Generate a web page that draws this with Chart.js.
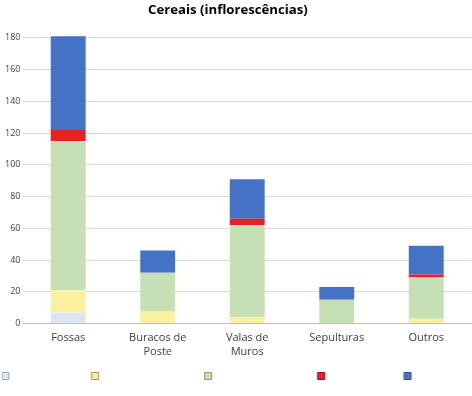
<!DOCTYPE html>
<html>
<head>
<meta charset="utf-8">
<script src="https://cdn.jsdelivr.net/npm/chart.js@4"></script>
<style>
  html, body { margin: 0; padding: 0; background: #fff; }
  #wrap { width: 472px; height: 396px; }
</style>
</head>
<body>
<div id="wrap"><canvas id="chart"></canvas></div>
<script>
const categories = ["Fossas", ["Buracos de", "Poste"], ["Valas de", "Muros"], "Sepulturas", "Outros"];
const yTicks = [0, 20, 40, 60, 80, 100, 120, 140, 160, 180];

// series, bottom to top (names not shown in the legend of the reference)
const serie1 = [7, 0, 0, 0, 0];
const serie2 = [14, 8, 4, 0, 3];
const serie3 = [94, 24, 58, 15, 26];
const serie4 = [7, 0, 4, 0, 2];
const serie5 = [59, 14, 25, 8, 18];

const fills = ["#dce6f2", "#fcf0a0", "#c6dfb5", "#e8202a", "#4472c4"];
const edges = ["#8ea9c8", "#a89a3c", "#7f9f6c", "#a01018", "#2f528f"];
// legend labels are blank in the reference; spaces keep the box spacing
const legendLabels = [" ".repeat(23), " ".repeat(30), " ".repeat(30), " ".repeat(22), " "];

const series = [serie1, serie2, serie3, serie4, serie5];

const ctx = document.getElementById("chart").getContext("2d");
new Chart(ctx, {
  type: "bar",
  data: {
    labels: categories,
    datasets: series.map((data, i) => ({
      label: legendLabels[i],
      data: data,
      backgroundColor: fills[i],
      borderWidth: 0,
      clip: false,
      categoryPercentage: 1,
      barPercentage: 0.39,
    })),
  },
  options: {
    responsive: true,
    maintainAspectRatio: false,
    animation: false,
    layout: { padding: { left: 2, right: 1, top: 0, bottom: 4 } },
    plugins: {
      title: {
        display: true,
        // trailing spaces nudge the title a little left, as in the reference
        text: "Cereais (inflorescências)     ",
        color: "#000",
        font: { family: "Open Sans", size: 13.2, weight: "bold" },
        padding: { top: 2, bottom: 20 },
      },
      legend: {
        position: "bottom",
        align: "start",
        labels: {
          boxWidth: 7,
          boxHeight: 7,
          padding: 0,
          font: { family: "Liberation Sans", size: 12 },
          generateLabels: (chart) => {
            const items = Chart.defaults.plugins.legend.labels.generateLabels(chart);
            items.forEach((it, i) => {
              it.strokeStyle = edges[i];
              it.lineWidth = 1;
            });
            return items;
          },
        },
        onClick: null,
      },
      tooltip: { enabled: false },
    },
    scales: {
      x: {
        stacked: true,
        grid: { display: false },
        border: { color: "#bfbfbf" },
        afterFit: (axis) => {
          axis.height += 12;
        },
        ticks: {
          color: "#404040",
          font: { family: "Open Sans", size: 11 },
          padding: 0,
          maxRotation: 0,
          autoSkip: false,
        },
      },
      y: {
        stacked: true,
        min: 0,
        max: 180,
        afterBuildTicks: (axis) => {
          axis.ticks = yTicks.map((v) => ({ value: v }));
        },
        grid: { color: "#d9d9d9", drawTicks: false },
        border: { display: false },
        ticks: {
          color: "#404040",
          font: { family: "Open Sans", size: 9 },
          padding: 3,
        },
      },
    },
  },
});
</script>
</body>
</html>
